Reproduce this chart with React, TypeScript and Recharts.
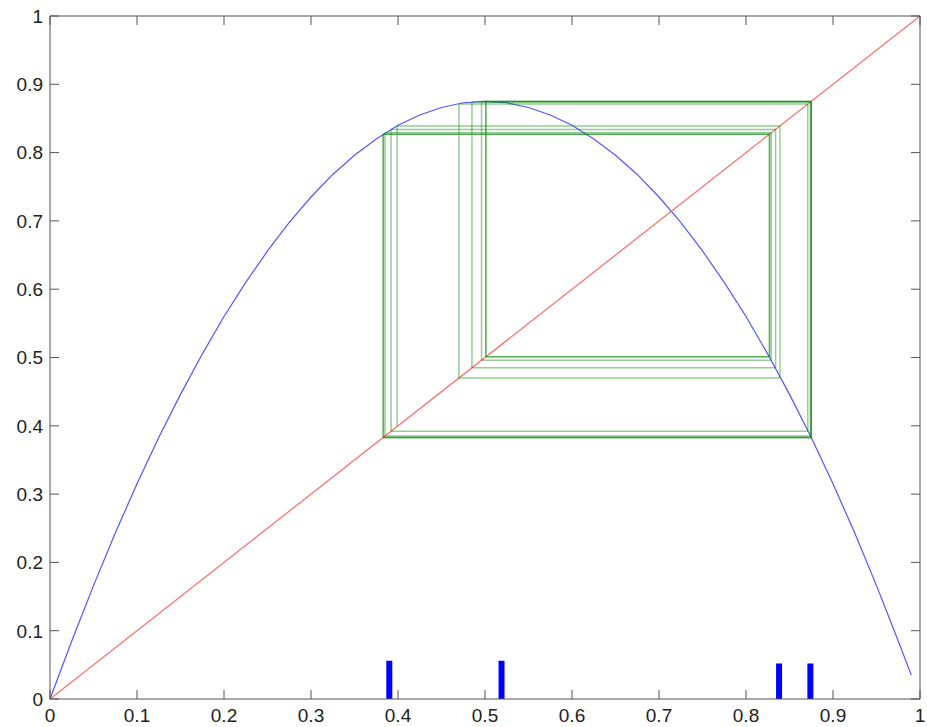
import React from 'react';
import { ComposedChart, Line, XAxis, YAxis, ReferenceLine } from 'recharts';

// Axis ticks
const tickValues = [0, 0.1, 0.2, 0.3, 0.4, 0.5, 0.6, 0.7, 0.8, 0.9, 1];
const tickLabels = ['0', '0.1', '0.2', '0.3', '0.4', '0.5', '0.6', '0.7', '0.8', '0.9', '1'];

// Blue parabola
const curveX = [0, 0.025, 0.05, 0.075, 0.1, 0.125, 0.15, 0.175, 0.2, 0.225, 0.25, 0.275, 0.3, 0.325, 0.35, 0.375, 0.4, 0.425, 0.45, 0.475, 0.5,
  0.525, 0.55, 0.575, 0.6, 0.625, 0.65, 0.675, 0.7, 0.725, 0.75, 0.775, 0.8, 0.825, 0.85, 0.875, 0.9, 0.925, 0.95, 0.975, 0.99];
const curveY = [0, 0.085, 0.166, 0.243, 0.315, 0.383, 0.446, 0.505, 0.56, 0.61, 0.656, 0.698, 0.735, 0.768, 0.796, 0.82, 0.84, 0.855, 0.866, 0.873, 0.875,
  0.873, 0.866, 0.855, 0.84, 0.82, 0.796, 0.768, 0.735, 0.698, 0.656, 0.61, 0.56, 0.505, 0.446, 0.383, 0.315, 0.243, 0.166, 0.085, 0.035];

// Red diagonal
const diagX = [0, 1];
const diagY = [0, 1];

// Cobweb iterates
const cobwebIterates = [0.399, 0.839, 0.470, 0.871, 0.392, 0.834, 0.485, 0.874, 0.385, 0.829, 0.496, 0.875,
  0.383, 0.827, 0.501, 0.875, 0.383, 0.827, 0.501, 0.875, 0.383];

// Blue markers at the bottom
const markerX = [0.390, 0.519, 0.838, 0.874];
const markerH = [0.056, 0.056, 0.052, 0.052];

const AX = '#555555';
const FONT = '"Liberation Sans", Arial, Helvetica, sans-serif';
const TEXT = '#222222';

const curveData = curveX.map((x, i) => ({ x, y: curveY[i] }));
const diagData = diagX.map((x, i) => ({ x, y: diagY[i] }));

const cobwebSegments: { x: number; y: number }[][] = [];
for (let i = 0; i < cobwebIterates.length - 1; i++) {
  const a = cobwebIterates[i];
  const b = cobwebIterates[i + 1];
  cobwebSegments.push([{ x: a, y: a }, { x: a, y: b }]);
  cobwebSegments.push([{ x: a, y: b }, { x: b, y: b }]);
}

const labelOf = (v: number) => {
  const i = tickValues.findIndex((t) => Math.abs(t - v) < 1e-9);
  return i >= 0 ? tickLabels[i] : String(v);
};

const BottomTick = (props: any) => {
  const { x, y, payload } = props;
  return (
    <g>
      <line x1={x} y1={y} x2={x} y2={y - 9} stroke={AX} strokeWidth={1} />
      <text x={x} y={y + 23} textAnchor="middle" fontSize={19} fontFamily={FONT} fill={TEXT}>
        {labelOf(payload.value)}
      </text>
    </g>
  );
};

const TopTick = (props: any) => {
  const { x, y } = props;
  return <line x1={x} y1={y} x2={x} y2={y + 9} stroke={AX} strokeWidth={1} />;
};

const LeftTick = (props: any) => {
  const { x, y, payload } = props;
  return (
    <g>
      <line x1={x} y1={y} x2={x + 9} y2={y} stroke={AX} strokeWidth={1} />
      <text x={x - 7} y={y} dy="0.36em" textAnchor="end" fontSize={19} fontFamily={FONT} fill={TEXT}>
        {labelOf(payload.value)}
      </text>
    </g>
  );
};

const RightTick = (props: any) => {
  const { x, y } = props;
  return <line x1={x} y1={y} x2={x - 9} y2={y} stroke={AX} strokeWidth={1} />;
};

export default function App() {
  return (
    <div style={{ position: 'absolute', left: 0, top: 0, width: 927, height: 727, background: '#fff' }}>
      <ComposedChart width={927} height={727} margin={{ top: 15, right: 6, left: 0, bottom: 0 }}>
        <XAxis
          xAxisId="bottom"
          type="number"
          dataKey="x"
          domain={[0, 1]}
          ticks={tickValues}
          allowDataOverflow
          orientation="bottom"
          height={28}
          tickSize={0}
          tickMargin={0}
          tickLine={false}
          axisLine={{ stroke: AX }}
          tick={<BottomTick />}
          interval={0}
        />
        <XAxis
          xAxisId="top"
          type="number"
          dataKey="x"
          domain={[0, 1]}
          ticks={tickValues}
          allowDataOverflow
          orientation="top"
          height={1}
          tickSize={0}
          tickMargin={0}
          tickLine={false}
          axisLine={{ stroke: AX }}
          tick={<TopTick />}
          interval={0}
        />
        <YAxis
          yAxisId="left"
          type="number"
          domain={[0, 1]}
          ticks={tickValues}
          allowDataOverflow
          orientation="left"
          width={50}
          tickSize={0}
          tickMargin={0}
          tickLine={false}
          axisLine={{ stroke: AX }}
          tick={<LeftTick />}
          interval={0}
        />
        <YAxis
          yAxisId="right"
          type="number"
          domain={[0, 1]}
          ticks={tickValues}
          allowDataOverflow
          orientation="right"
          width={1}
          tickSize={0}
          tickMargin={0}
          tickLine={false}
          axisLine={{ stroke: AX }}
          tick={<RightTick />}
          interval={0}
        />
        <Line
          xAxisId="bottom"
          yAxisId="left"
          data={curveData}
          dataKey="y"
          type="linear"
          stroke="#5555ff"
          strokeWidth={1.2}
          dot={false}
          activeDot={false}
          isAnimationActive={false}
        />
        <Line
          xAxisId="bottom"
          yAxisId="left"
          data={diagData}
          dataKey="y"
          type="linear"
          stroke="#ff6a6a"
          strokeWidth={1.2}
          dot={false}
          activeDot={false}
          isAnimationActive={false}
        />
        {cobwebSegments.map((seg, i) => (
          <Line
            key={'c' + i}
            xAxisId="bottom"
            yAxisId="left"
            data={seg}
            dataKey="y"
            type="linear"
            stroke="#008a00"
            strokeOpacity={0.42}
            strokeWidth={1.5}
            dot={false}
            activeDot={false}
            isAnimationActive={false}
          />
        ))}
        {markerX.map((mx, i) => (
          <ReferenceLine
            key={'m' + i}
            xAxisId="bottom"
            yAxisId="left"
            segment={[{ x: mx, y: 0 }, { x: mx, y: markerH[i] }]}
            stroke="#0000ff"
            strokeWidth={6}
            ifOverflow="visible"
          />
        ))}
      </ComposedChart>
    </div>
  );
}
